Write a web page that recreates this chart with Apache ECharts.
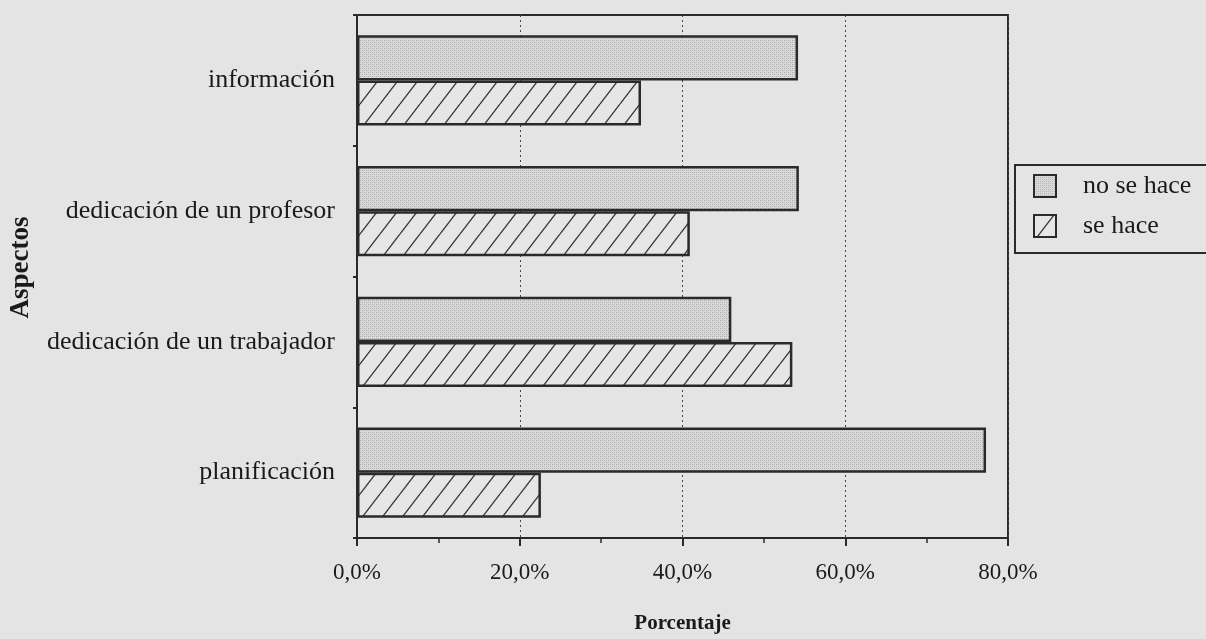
<!DOCTYPE html>
<html>
<head>
<meta charset="utf-8">
<script src="https://cdn.jsdelivr.net/npm/echarts@6/dist/echarts.min.js"></script>
<style>
html,body{margin:0;padding:0;background:#e4e4e4;overflow:hidden;}
#c{width:1206px;height:639px;}
</style>
</head>
<body>
<div id="c"></div>
<script>
const categories = ['información', 'dedicación de un profesor', 'dedicación de un trabajador', 'planificación'];
const noSeHace = [54.2, 54.3, 46.0, 77.3];
const seHace = [34.9, 40.9, 53.5, 22.6];
const seriesNames = ['no se hace', 'se hace'];
const xTicks = [0, 20, 40, 60, 80];

function stipple() {
  const c = document.createElement('canvas');
  c.width = 4; c.height = 4;
  const g = c.getContext('2d');
  g.fillStyle = '#d9d9d9'; g.fillRect(0, 0, 4, 4);
  g.fillStyle = '#a8a8a8';
  g.fillRect(0, 0, 1, 1); g.fillRect(2, 2, 1, 1);
  g.fillStyle = '#c0c0c0';
  g.fillRect(2, 0, 1, 1); g.fillRect(0, 2, 1, 1);
  return c;
}
function hatch() {
  const w = 20, h = 26;
  const c = document.createElement('canvas');
  c.width = w; c.height = h;
  const g = c.getContext('2d');
  g.fillStyle = '#e6e6e6'; g.fillRect(0, 0, w, h);
  g.strokeStyle = '#333'; g.lineWidth = 1.3;
  for (let k = -1; k <= 1; k++) {
    g.beginPath(); g.moveTo(k * w, h); g.lineTo(k * w + w, 0); g.stroke();
  }
  return c;
}

const serif = 'Liberation Serif';
const chart = echarts.init(document.getElementById('c'));
chart.setOption({
  backgroundColor: '#e4e4e4',
  animation: false,
  grid: { left: 350, right: 198, top: 15, bottom: 89, show: true, borderColor: '#2a2a2a', borderWidth: 2 },
  legend: {
    orient: 'vertical', left: 1015, top: 165,
    data: seriesNames,
    itemWidth: 22, itemHeight: 22, itemGap: 14,
    padding: [8, 60, 14, 18],
    borderColor: '#2a2a2a', borderWidth: 2,
    icon: 'rect',
    textStyle: { fontFamily: serif, fontSize: 26, color: '#1a1a1a', padding: [0, 0, 0, 22] }
  },
  xAxis: {
    type: 'value', min: xTicks[0], max: xTicks[xTicks.length - 1], interval: 20,
    name: 'Porcentaje', nameLocation: 'middle', nameGap: 75,
    nameTextStyle: { fontFamily: serif, fontSize: 21, fontWeight: 'bold', color: '#1a1a1a' },
    axisLine: { show: true, lineStyle: { color: '#2a2a2a', width: 2 } },
    axisTick: { show: true, length: 8, lineStyle: { color: '#2a2a2a', width: 2 } },
    minorTick: { show: true, splitNumber: 2, length: 5, lineStyle: { color: '#2a2a2a', width: 1.5 } },
    axisLabel: { fontFamily: serif, fontSize: 23, color: '#1a1a1a', margin: 23,
      formatter: v => v.toFixed(1).replace('.', ',') + '%' },
    splitLine: { show: true, lineStyle: { color: '#444', type: [2, 3], width: 1 } }
  },
  yAxis: {
    type: 'category', data: categories, inverse: true,
    name: 'Aspectos', nameLocation: 'middle', nameGap: 322, nameRotate: 90,
    nameTextStyle: { fontFamily: serif, fontSize: 27, fontWeight: 'bold', color: '#1a1a1a', padding: [0, 0, 0, 18] },
    axisLine: { show: true, lineStyle: { color: '#2a2a2a', width: 2 } },
    axisTick: { show: true, length: 4, lineStyle: { color: '#2a2a2a', width: 2 } },
    axisLabel: { fontFamily: serif, fontSize: 26, color: '#1a1a1a', margin: 22 },
    splitLine: { show: false }
  },
  series: [
    { name: seriesNames[0], type: 'bar', data: noSeHace, barGap: '0%', barCategoryGap: '31%',
      itemStyle: { color: { image: stipple(), repeat: 'repeat' }, borderColor: '#2a2a2a', borderWidth: 2.5 } },
    { name: seriesNames[1], type: 'bar', data: seHace, barGap: '0%', barCategoryGap: '31%',
      itemStyle: { color: { image: hatch(), repeat: 'repeat' }, borderColor: '#2a2a2a', borderWidth: 2.5 } }
  ]
});
</script>
</body>
</html>
